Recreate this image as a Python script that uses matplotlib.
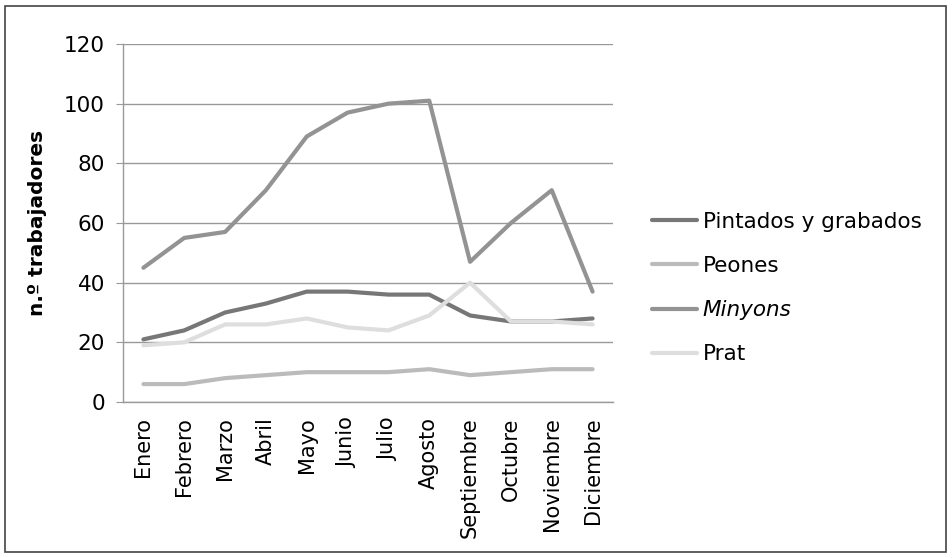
import matplotlib
matplotlib.use('Agg')
import matplotlib.pyplot as plt
from matplotlib.patches import Rectangle

matplotlib.rc('font', **{'family': 'sans-serif',
                         'sans-serif': ['DejaVu Sans'], 'size': 15.5})

meses = ['Enero', 'Febrero', 'Marzo', 'Abril', 'Mayo', 'Junio', 'Julio',
         'Agosto', 'Septiembre', 'Octubre', 'Noviembre', 'Diciembre']
pintados = [21, 24, 30, 33, 37, 37, 36, 36, 29, 27, 27, 28]
peones = [6, 6, 8, 9, 10, 10, 10, 11, 9, 10, 11, 11]
minyons = [45, 55, 57, 71, 89, 97, 100, 101, 47, 60, 71, 37]
prat = [19, 20, 26, 26, 28, 25, 24, 29, 40, 27, 27, 26]

fig = plt.figure(figsize=(9.52, 5.58), dpi=100)
ax = fig.add_axes([123 / 952, 1 - 402 / 558, 490 / 952, 358 / 558])

x = range(len(meses))
ax.plot(x, pintados, color='#777777', lw=3, label='Pintados y grabados',
        solid_capstyle='round', zorder=3)
ax.plot(x, peones, color='#bbbbbb', lw=3, label='Peones',
        solid_capstyle='round', zorder=3)
ax.plot(x, minyons, color='#939393', lw=3, label='Minyons',
        solid_capstyle='round', zorder=3)
ax.plot(x, prat, color='#dedede', lw=3, label='Prat',
        solid_capstyle='round', zorder=3)

ax.set_xlim(-0.5, len(meses) - 0.5)
ax.set_ylim(0, 120)
ax.set_yticks(range(0, 121, 20))
ax.set_xticks(list(x))
ax.set_xticklabels(meses, rotation=90, va='top', ha='center', fontsize=15)
ax.tick_params(axis='x', length=0, pad=11)
ax.tick_params(axis='y', length=5, color='#999999', pad=8)
ax.yaxis.grid(True, color='#999999', lw=1)
ax.set_axisbelow(True)
for s in ['top', 'right']:
    ax.spines[s].set_visible(False)
for s in ['left', 'bottom']:
    ax.spines[s].set_color('#999999')
    ax.spines[s].set_linewidth(1)

ax.set_ylabel(u'n.º trabajadores', fontweight='bold', fontsize=14.5)
ax.yaxis.set_label_coords(-76 / 490, 0.5)

leg = fig.legend(loc='center left', bbox_to_anchor=(652 / 952, 1 - 288 / 558),
                 frameon=False, borderpad=0, borderaxespad=0,
                 handlelength=2.1, handletextpad=0.25,
                 labelspacing=1.13, fontsize=15.5)
leg.get_texts()[2].set_style('italic')

fig.patches.append(Rectangle((5 / 952, 6 / 558), 941 / 952, 546 / 558,
                             transform=fig.transFigure, fill=False,
                             edgecolor='#444444', lw=1.2))

fig.savefig('out.png', dpi=100)
